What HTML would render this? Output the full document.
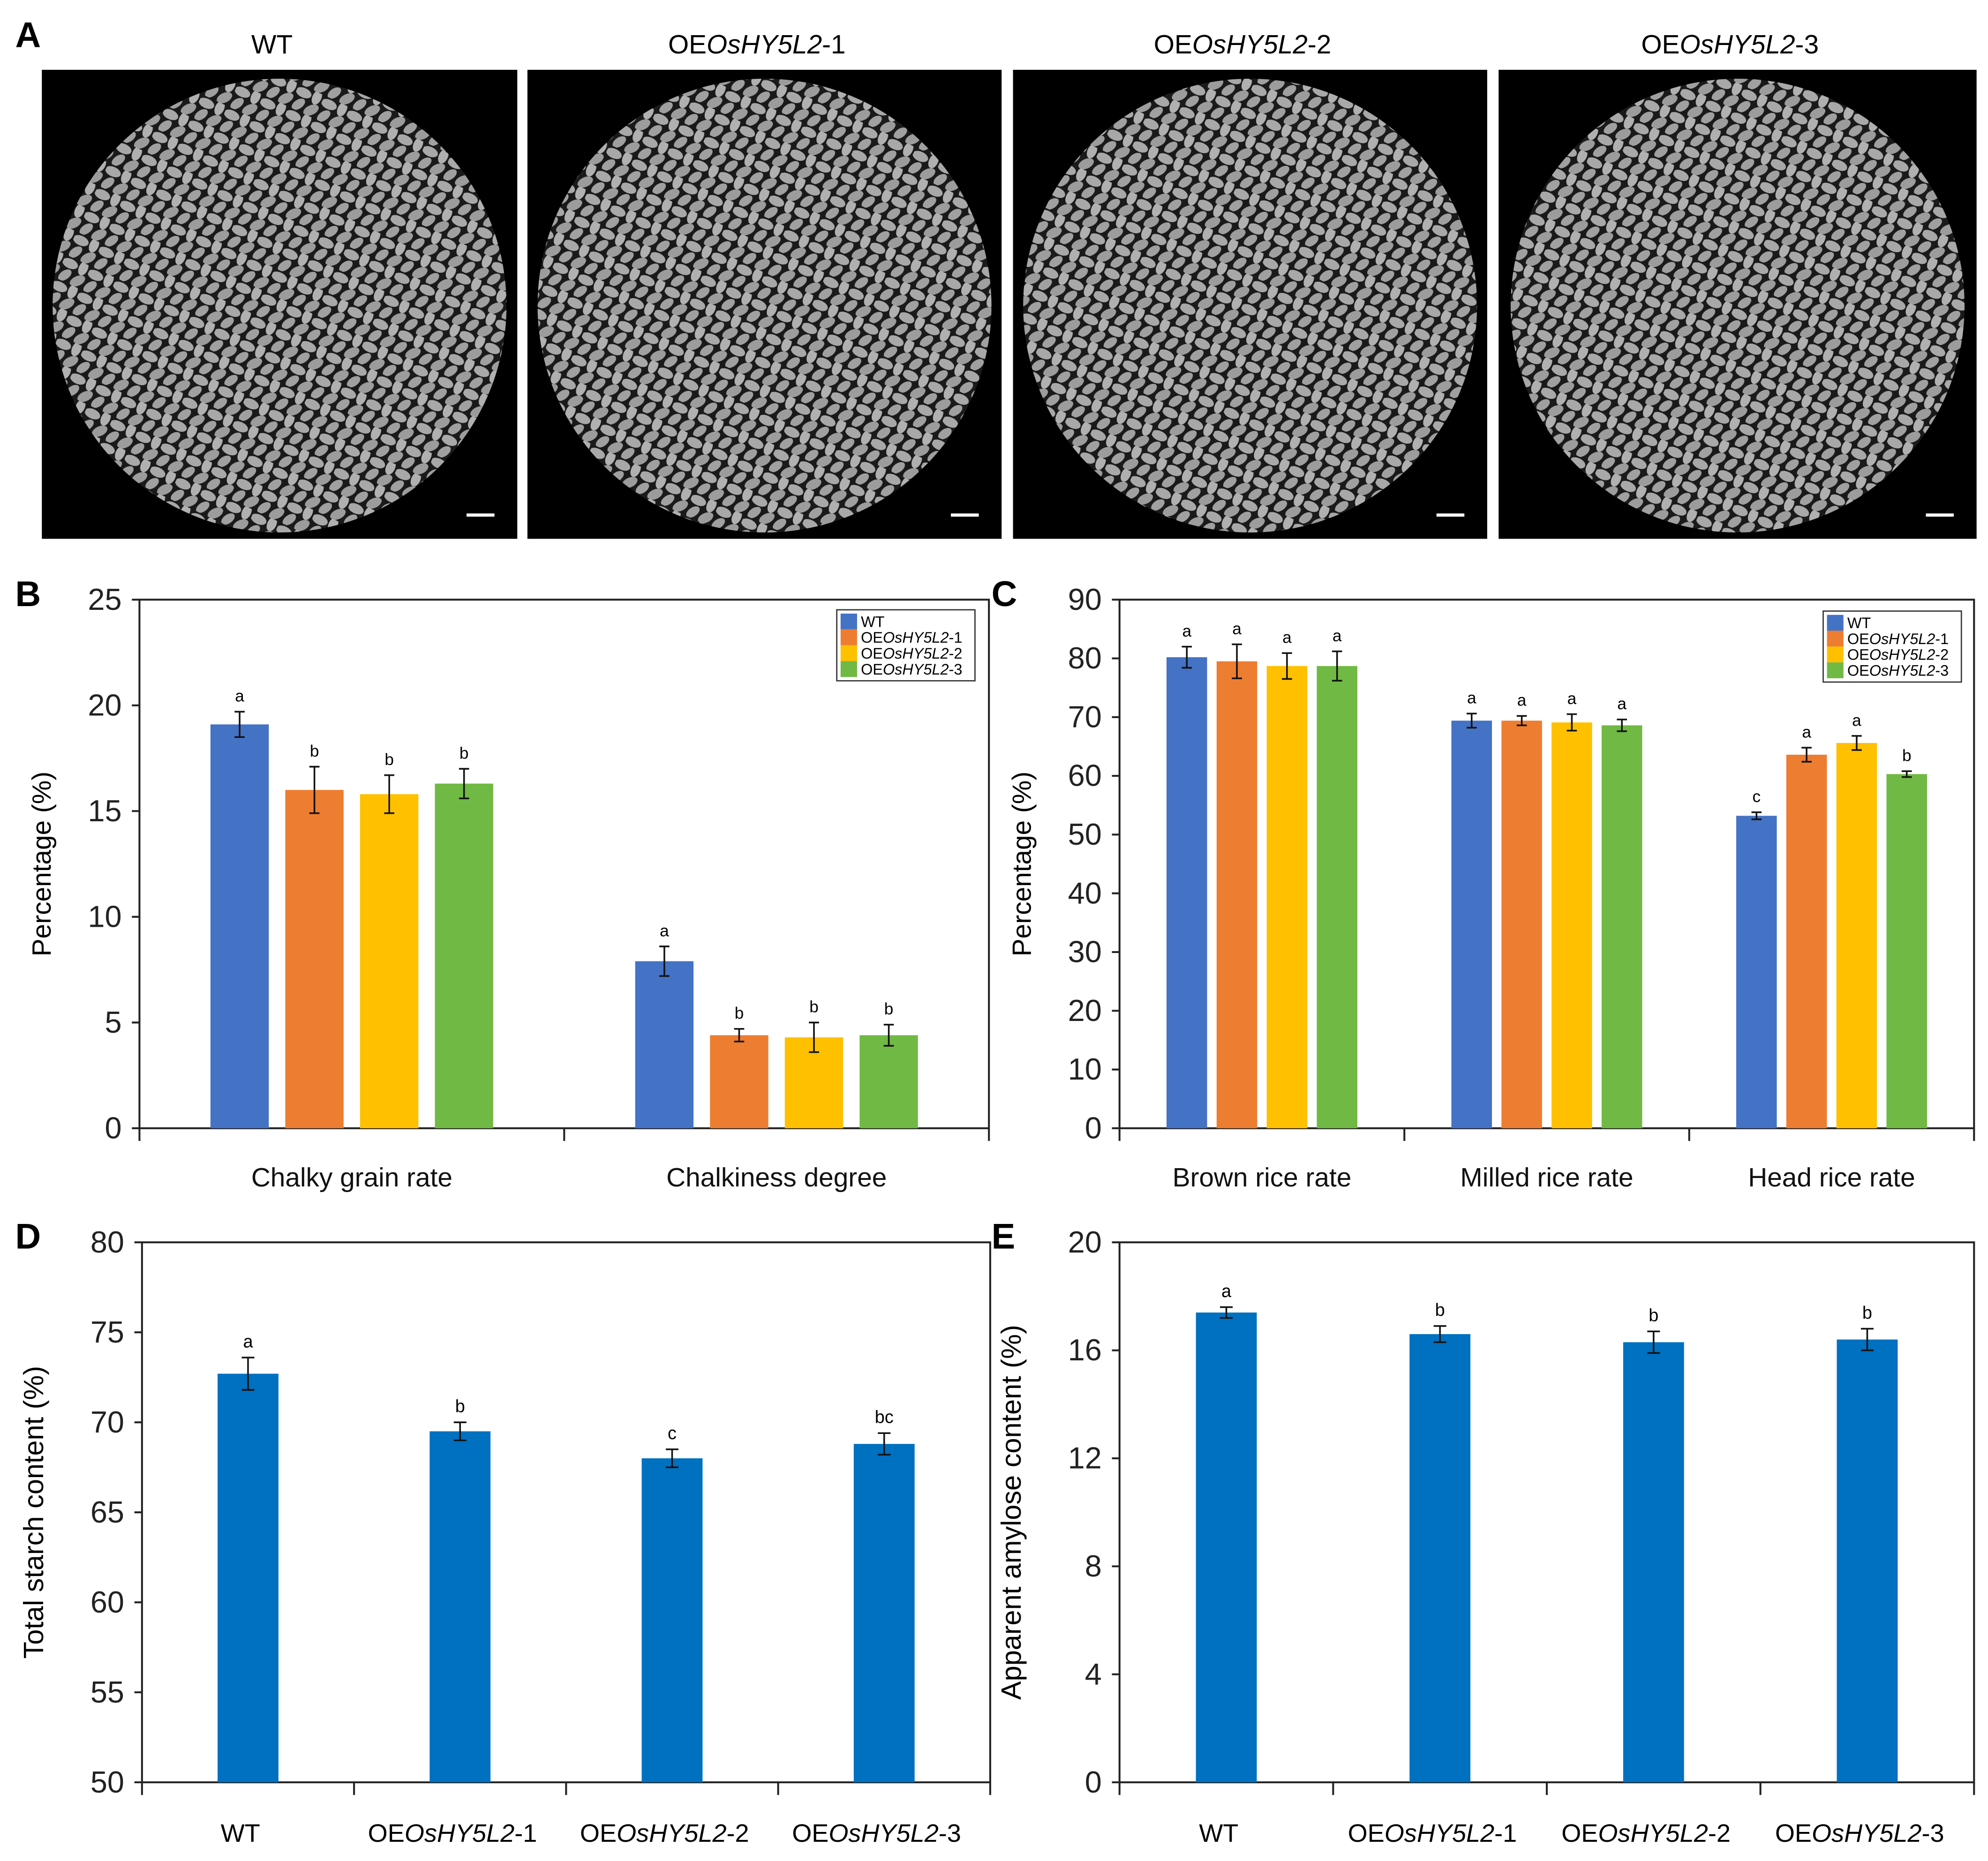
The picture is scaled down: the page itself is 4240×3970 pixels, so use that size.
<!DOCTYPE html>
<html><head><meta charset="utf-8"><style>
html,body{margin:0;padding:0;background:#fff;}
svg{display:block;font-family:"Liberation Sans",Arial,sans-serif;}
</style></head><body>
<svg id="fig" width="4240" height="3970" viewBox="0 0 1568 1468" xmlns="http://www.w3.org/2000/svg">
<defs>
<pattern id="rice" width="22" height="20" patternUnits="userSpaceOnUse" patternTransform="rotate(25)">
<rect width="22" height="20" fill="#1a1a1a"/>
<ellipse cx="6" cy="5" rx="6.5" ry="3.8" fill="#a8a8a8"/>
<ellipse cx="17" cy="15" rx="6.5" ry="3.8" fill="#9c9c9c" transform="rotate(-50 17 15)"/>
<ellipse cx="17" cy="4" rx="3.6" ry="6" fill="#b0b0b0"/>
<ellipse cx="6" cy="15" rx="3.5" ry="6" fill="#a0a0a0" transform="rotate(30 6 15)"/>
</pattern>
</defs>
<g id="root"></g>
</svg>
<script>
const NS="http://www.w3.org/2000/svg";
const root=document.getElementById('root');
function el(tag,attrs,parent,text){const e=document.createElementNS(NS,tag);for(const k in attrs)e.setAttribute(k,attrs[k]);if(text!==undefined)e.textContent=text;(parent||root).appendChild(e);return e;}

// ---- data ----
const lines=["WT","OEOsHY5L2-1","OEOsHY5L2-2","OEOsHY5L2-3"];
const colors=["#4472c4","#ed7d31","#ffc000","#70b944"];
const bCategories=["Chalky grain rate","Chalkiness degree"];
const bValues=[[19.1,16.0,15.8,16.3],[7.9,4.4,4.3,4.4]];
const bErrors=[[0.6,1.1,0.9,0.7],[0.7,0.3,0.7,0.5]];
const bLetters=[["a","b","b","b"],["a","b","b","b"]];
const bTicks=[0,5,10,15,20,25];
const cCategories=["Brown rice rate","Milled rice rate","Head rice rate"];
const cValues=[[80.2,79.5,78.7,78.7],[69.4,69.4,69.1,68.6],[53.2,63.6,65.6,60.3]];
const cErrors=[[1.8,2.9,2.2,2.5],[1.2,0.8,1.4,1.0],[0.6,1.2,1.2,0.5]];
const cLetters=[["a","a","a","a"],["a","a","a","a"],["c","a","a","b"]];
const cTicks=[0,10,20,30,40,50,60,70,80,90];
const dValues=[72.7,69.5,68.0,68.8];
const dErrors=[0.9,0.5,0.5,0.6];
const dLetters=["a","b","c","bc"];
const dTicks=[50,55,60,65,70,75,80];
const eValues=[17.4,16.6,16.3,16.4];
const eErrors=[0.2,0.3,0.4,0.4];
const eLetters=["a","b","b","b"];
const eTicks=[0,4,8,12,16,20];

// ---- panel letters ----
[["A",12,37],["B",12,478],["C",782,478],["D",12,985],["E",782,985]].forEach(p=>{
  const t=el('text',{x:p[1],y:p[2],'font-size':28,'font-weight':'bold'},root,p[0]);
  
  
});

function lineLabel(parent,name,x,y,size,anchor){
  const t=el('text',{x:x,y:y,'font-size':size,'text-anchor':anchor||'middle'},parent);
  if(name==="WT"){t.textContent="WT";return t;}
  const suf=name.slice(-2);
  el('tspan',{},t,"OE");el('tspan',{'font-style':'italic'},t,"OsHY5L2");el('tspan',{},t,suf);
  return t;
}

// ---- Panel A ----
const imgX=[33,416,799,1182],imgW=[375,374,374,377];
imgX.forEach((x,i)=>{
  const g=el('g',{});
  
  
  el('rect',{x:x,y:55,width:imgW[i],height:370,fill:'#000'},g);
  el('circle',{cx:x+imgW[i]/2,cy:241,r:179,fill:'url(#rice)'},g);
  el('rect',{x:x+imgW[i]-40,y:405,width:22,height:2.5,fill:'#fff'},g);
  const t=lineLabel(root,lines[i],x+imgW[i]/2-6,42,21);
  
  
});

// ---- grouped bar chart ----
function groupChart(o){
  const g=el('g',{});
  
  
  const y=v=>o.y1-(v-o.ymin)/(o.ymax-o.ymin)*(o.y1-o.y0);
  el('rect',{x:o.x0,y:o.y0,width:o.x1-o.x0,height:o.y1-o.y0,fill:'none',stroke:'#222','stroke-width':1.5},g);
  o.ticks.forEach(t=>{
    el('line',{x1:o.x0-6,x2:o.x0,y1:y(t),y2:y(t),stroke:'#222','stroke-width':1.5},g);
    const tl=el('text',{x:o.x0-14,y:y(t)+8,'font-size':24,'text-anchor':'end',fill:'#222'},g,String(t));
    
    
  });
  const n=o.cats.length, gw=(o.x1-o.x0)/n;
  for(let i=0;i<=n;i++) el('line',{x1:o.x0+i*gw,x2:o.x0+i*gw,y1:o.y1,y2:o.y1+10,stroke:'#222','stroke-width':1.5},g);
  o.cats.forEach((c,ci)=>{
    const cx=o.x0+gw*(ci+0.5);
    const cl=el('text',{x:cx,y:o.y1+46,'font-size':21,'text-anchor':'middle',fill:'#111'},g,c);
    
    
    o.vals[ci].forEach((v,si)=>{
      const bx=cx+(si-1.5)*o.step;
      const r=el('rect',{x:bx-o.bw/2,y:y(v),width:o.bw,height:o.y1-y(v),fill:colors[si]},g);
      
      
      const e=o.errs[ci][si],t1=y(v+e),t2=y(v-e);
      el('line',{x1:bx,x2:bx,y1:t1,y2:t2,stroke:'#111','stroke-width':1.3},g);
      el('line',{x1:bx-4,x2:bx+4,y1:t1,y2:t1,stroke:'#111','stroke-width':1.3},g);
      el('line',{x1:bx-4,x2:bx+4,y1:t2,y2:t2,stroke:'#111','stroke-width':1.3},g);
      el('text',{x:bx,y:t1-8,'font-size':13,'text-anchor':'middle'},g,o.lets[ci][si]);
    });
  });
  const yt=el('text',{transform:`translate(${o.x0-70},${(o.y0+o.y1)/2}) rotate(-90)`,'font-size':21,'text-anchor':'middle'},g,'Percentage (%)');
  
  
  const lg=el('g',{},g);
  
  
  el('rect',{x:o.lx,y:o.ly,width:109,height:56,fill:'#fff',stroke:'#333','stroke-width':1},lg);
  lines.forEach((l,i)=>{
    const le=el('g',{},lg);
    
    
    el('rect',{x:o.lx+3,y:o.ly+3+i*12.5,width:13,height:12.5,fill:colors[i]},le);
    lineLabel(le,l,o.lx+19,o.ly+13.5+i*12.5,12,'start');
  });
}
groupChart({name:'chart-b',x0:110,x1:780,y0:473,y1:890,ymin:0,ymax:25,ticks:bTicks,cats:bCategories,vals:bValues,errs:bErrors,lets:bLetters,step:59,bw:46,lx:660,ly:481});
groupChart({name:'chart-c',x0:883,x1:1557,y0:473,y1:890,ymin:0,ymax:90,ticks:cTicks,cats:cCategories,vals:cValues,errs:cErrors,lets:cLetters,step:39.5,bw:32,lx:1438,ly:482});

// ---- single bar charts ----
function singleChart(o){
  const g=el('g',{});
  
  
  const y=v=>o.y1-(v-o.ymin)/(o.ymax-o.ymin)*(o.y1-o.y0);
  el('rect',{x:o.x0,y:o.y0,width:o.x1-o.x0,height:o.y1-o.y0,fill:'none',stroke:'#222','stroke-width':1.5},g);
  o.ticks.forEach(t=>{
    el('line',{x1:o.x0-6,x2:o.x0,y1:y(t),y2:y(t),stroke:'#222','stroke-width':1.5},g);
    const tl=el('text',{x:o.x0-14,y:y(t)+8,'font-size':24,'text-anchor':'end',fill:'#222'},g,String(t));
    
    
  });
  const n=o.vals.length,gw=(o.x1-o.x0)/n;
  for(let i=0;i<=n;i++) el('line',{x1:o.x0+i*gw,x2:o.x0+i*gw,y1:o.y1,y2:o.y1+10,stroke:'#222','stroke-width':1.5},g);
  o.vals.forEach((v,i)=>{
    const cx=o.x0+gw*(i+0.5);
    const r=el('rect',{x:cx-24,y:y(v),width:48,height:o.y1-y(v),fill:'#0070c0'},g);
    
    
    const e=o.errs[i],t1=y(v+e),t2=y(v-e);
    el('line',{x1:cx,x2:cx,y1:t1,y2:t2,stroke:'#111','stroke-width':1.3},g);
    el('line',{x1:cx-5,x2:cx+5,y1:t1,y2:t1,stroke:'#111','stroke-width':1.3},g);
    el('line',{x1:cx-5,x2:cx+5,y1:t2,y2:t2,stroke:'#111','stroke-width':1.3},g);
    el('text',{x:cx,y:t1-8,'font-size':14,'text-anchor':'middle'},g,o.lets[i]);
    const xl=lineLabel(g,lines[i],cx-6,o.y1+47,20);
    
    
  });
  const yt=el('text',{transform:`translate(${o.x0-78},${(o.y0+o.y1)/2}) rotate(-90)`,'font-size':22,'text-anchor':'middle'},g,o.ytitle);
  
  
}
singleChart({name:'chart-d',x0:112,x1:781,y0:980,y1:1406,ymin:50,ymax:80,ticks:dTicks,vals:dValues,errs:dErrors,lets:dLetters,ytitle:'Total starch content (%)'});
singleChart({name:'chart-e',x0:883,x1:1557,y0:980,y1:1406,ymin:0,ymax:20,ticks:eTicks,vals:eValues,errs:eErrors,lets:eLetters,ytitle:'Apparent amylose content (%)'});
</script>
</body></html>
